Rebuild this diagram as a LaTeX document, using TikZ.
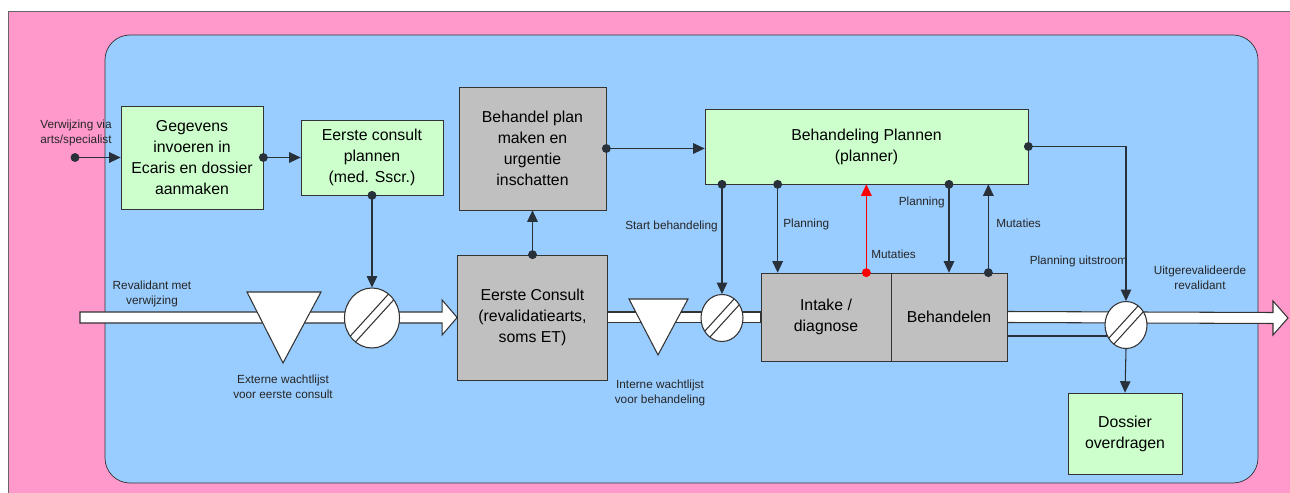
\documentclass[tikz,border=0pt]{standalone}
\usepackage{fontspec}
\setmainfont{Liberation Sans}
\usepackage{xcolor}
\usetikzlibrary{arrows.meta,shapes.geometric,backgrounds}
\definecolor{kaderroze}{RGB}{255,153,204}
\definecolor{kaderblauw}{RGB}{153,204,255}
\definecolor{stapgroen}{RGB}{204,255,204}
\definecolor{stapgrijs}{RGB}{192,192,192}
\definecolor{lijngrijs}{RGB}{40,48,58}

\begin{document}
\begin{tikzpicture}[
  stap/.style={draw=black!80,align=center,inner sep=1pt,font=\fontsize{9}{11.9}\selectfont},
  groen/.style={stap,fill=stapgroen},
  grijs/.style={stap,fill=stapgrijs},
  poort/.style={ellipse,draw=black!80,fill=white,inner sep=0pt,line width=0.6pt,
    path picture={\foreach \d in {-1,1}
      \draw[black!80,line width=0.6pt] ([shift={(\d*0.055,-\d*0.055)}]path picture bounding box.center) ++(-0.6,-0.66) -- ++(1.2,1.32);}},
  stroom/.style={draw=black!80,fill=white,line width=0.6pt},
  lijn/.style={lijngrijs,line width=0.6pt},
  pijl/.style={lijn,-{Triangle[length=6.5pt,width=6pt]}},
  stippijl/.style={pijl,{Circle[length=5pt]}-{Triangle[length=6.5pt,width=6pt]},shorten <=-2.5pt},
  klein/.style={align=center,font=\fontsize{6.7}{8.5}\selectfont,inner sep=0pt,text=black!85}
]
  \useasboundingbox (0,0) rectangle (25.8,9.84);
  \begin{scope}[on background layer]
    \draw[black!60,fill=kaderroze] (0.16,-0.5) rectangle (26.5,9.62);
    \draw[black!80,fill=kaderblauw,rounded corners=0.5cm] (2.1,0.18) rectangle (25.16,9.14);
  \end{scope}

  \node[groen,minimum width=2.84cm,minimum height=2.06cm] (gegevens) at (3.84,6.69) {Gegevens\\invoeren in\\Ecaris en dossier\\aanmaken};
  \node[groen,minimum width=2.84cm,minimum height=1.5cm] (consultplan) at (7.44,6.69) {Eerste consult\\plannen\\(med. Sscr.)};
  \node[grijs,minimum width=2.94cm,minimum height=2.46cm] (behplan) at (10.65,6.87) {Behandel plan\\maken en\\urgentie\\inschatten};
  \node[groen,minimum width=6.46cm,minimum height=1.5cm] (planner) at (17.33,6.91) {Behandeling Plannen\\(planner)};
  \node[grijs,minimum width=3.0cm,minimum height=2.5cm] (consult) at (10.65,3.49) {Eerste Consult\\(revalidatiearts,\\soms ET)};
  \node[grijs,minimum width=2.6cm,minimum height=1.76cm] (intake) at (16.52,3.5) {Intake /\\diagnose};
  \node[grijs,minimum width=2.32cm,minimum height=1.76cm] (behandelen) at (18.98,3.5) {Behandelen};
  \node[groen,minimum width=2.28cm,minimum height=1.62cm] (dossier) at (22.5,1.17) {Dossier\\overdragen};

  \coordinate (invoer) at (1.5,6.69);
  \coordinate (revin) at (1.6,3.49);
  \coordinate (revuit) at (25.76,3.48);
  \coordinate (uitlijn) at ([yshift=-0.38cm]behandelen.east);
  \coordinate (plan1) at ([xshift=0.34cm]intake.north west);
  \coordinate (mut1) at ([xshift=-0.5cm]intake.north east);
  \coordinate (mut2) at ([xshift=-0.38cm]behandelen.north east);

  \begin{scope}[on background layer]
    \draw[stroom] ([yshift=0.11cm]revin) -- ([shift={(-0.3,0.11)}]consult.west) -- ++(0,0.24) -- (consult.west)
      -- ([shift={(-0.3,-0.35)}]consult.west) -- ++(0,0.24) -- ([yshift=-0.11cm]revin) -- cycle;
    \draw[stroom] ([yshift=0.11cm]consult.east) rectangle ([yshift=-0.11cm]intake.west);
    \draw[stroom] ([yshift=0.11cm]behandelen.east) -- ([shift={(-0.3,0.11)}]revuit) -- ++(0,0.23) -- (revuit)
      -- ([shift={(-0.3,-0.34)}]revuit) -- ++(0,0.23) -- ([yshift=-0.11cm]behandelen.east) -- cycle;
    \draw[lijn] (uitlijn) -- (uitlijn -| 22.52,0);
  \end{scope}

  \draw[stroom] (5.66,2.58) -- (4.94,4.0) -- (6.42,4.0) -- cycle;
  \draw[stroom] (13.16,2.74) -- (12.58,3.86) -- (13.76,3.86) -- cycle;
  \node[poort,minimum width=1.1cm,minimum height=1.2cm] (c1) at (7.44,3.48) {};
  \node[poort,minimum width=0.84cm,minimum height=0.94cm] (c2) at (14.44,3.48) {};
  \node[poort,minimum width=0.84cm,minimum height=0.94cm] (c3) at (22.52,3.34) {};

  \draw[stippijl] (invoer) -- (gegevens.west);
  \draw[stippijl] (gegevens.east) -- (consultplan.west);
  \draw[stippijl] (consultplan.south) -- (c1.north);
  \draw[stippijl] (consult.north) -- (behplan.south);
  \draw[stippijl] (behplan.east) -- (behplan.east -| planner.west);
  \draw[stippijl] (c2 |- planner.south) -- (c2.north);
  \draw[stippijl] (plan1 |- planner.south) -- (plan1);
  \draw[stippijl,red] (mut1) -- (mut1 |- planner.south);
  \draw[stippijl] (behandelen.north |- planner.south) -- (behandelen.north);
  \draw[stippijl] (mut2) -- (mut2 |- planner.south);
  \draw[stippijl] (planner.east) -| (c3.north);
  \draw[pijl] (c3.south) -- (dossier.north);

  \node[klein] (verwijzing) at (1.52,7.18) {Verwijzing via\\arts/specialist};
  \node[klein] (revtekst) at (3.04,3.96) {Revalidant met\\verwijzing};
  \node[klein] (extern) at (5.66,2.1) {Externe wachtlijst\\voor eerste consult};
  \node[klein] (intern) at (13.2,1.98) {Interne wachtlijst\\voor behandeling};
  \node[klein,anchor=east] (start) at (14.36,5.32) {Start behandeling};
  \node[klein,anchor=west] (planning1) at (15.66,5.36) {Planning};
  \node[klein,anchor=west] (mutaties1) at (17.42,4.76) {Mutaties};
  \node[klein,anchor=east] (planning2) at (18.9,5.8) {Planning};
  \node[klein,anchor=west] (mutaties2) at (19.92,5.38) {Mutaties};
  \node[klein] (uitstroom) at (21.57,4.62) {Planning uitstroom};
  \node[klein] (uitgerevalideerd) at (24.0,4.28) {Uitgerevalideerde\\revalidant};
\end{tikzpicture}
\end{document}
